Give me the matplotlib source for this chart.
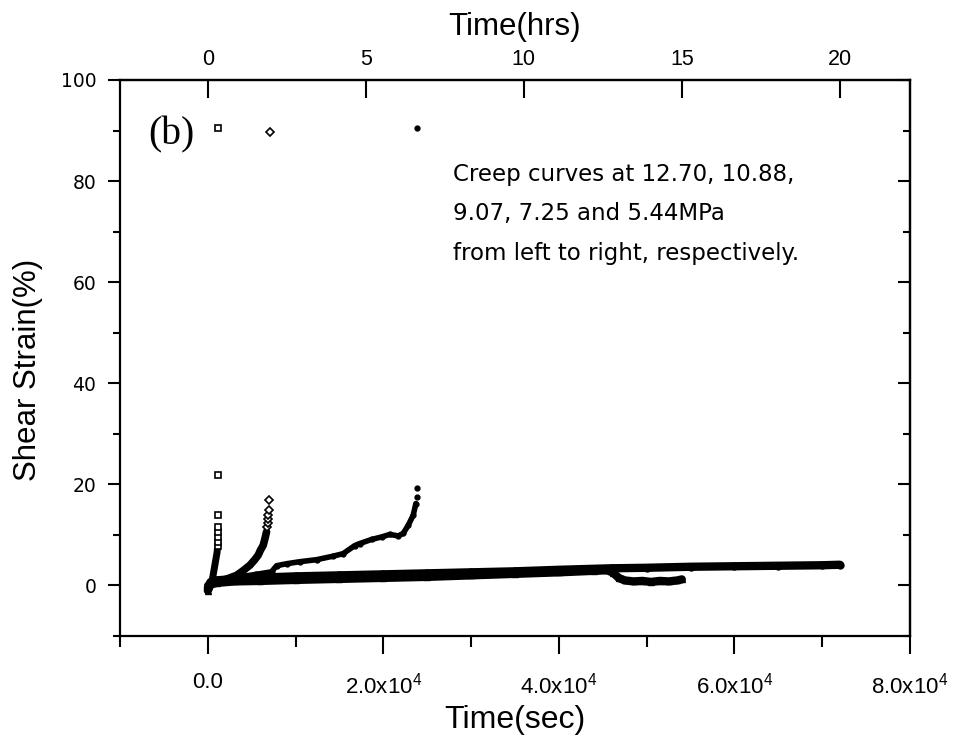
import matplotlib
matplotlib.use("Agg")
import matplotlib.pyplot as plt
from matplotlib.ticker import FixedLocator, MultipleLocator, FixedFormatter

plt.rcParams["font.family"] = ["Liberation Sans", "DejaVu Sans"]
plt.rcParams["mathtext.default"] = "regular"

# creep curves, time in seconds, shear strain in %
# 12.70 MPa
t1 = [0, 200, 400, 550, 650, 750, 850, 950, 1050, 1100]
s1 = [-0.5, 0.3, 0.8, 1.5, 2.5, 3.5, 4.5, 5.5, 6.5, 7.3]
tail1_t = [1120, 1130, 1130, 1140, 1140, 1140, 1140, 1140]
tail1_s = [7.8, 8.6, 9.6, 10.6, 11.6, 13.9, 21.8, 90.5]

# 10.88 MPa
t2 = [0, 230, 1000, 1750, 2500, 3270, 4000, 4790, 5300, 5740, 6000, 6300, 6500, 6690]
s2 = [0.0, 0.2, 0.6, 1.0, 1.5, 2.0, 2.9, 4.0, 5.0, 6.0, 7.0, 7.9, 9.2, 10.6]
tail2_t = [6750, 6800, 6850, 6900, 6950, 6950, 7060]
tail2_s = [11.5, 12.3, 13.2, 14.0, 14.9, 17.0, 89.7]

# 9.07 MPa
t3 = [0, 230, 1500, 3650, 5500, 7260, 7830, 8970, 10480, 12390, 14280, 15420,
      16750, 17320, 18650, 19800, 20740, 21690, 22260, 22830, 23400, 23700]
s3 = [0.0, 0.4, 1.0, 1.7, 2.2, 2.7, 3.9, 4.3, 4.7, 5.1, 5.8, 6.3,
      7.9, 8.3, 9.1, 9.6, 10.1, 9.8, 10.3, 11.9, 13.9, 16.2]
tail3_t = [23780, 23820, 23780]
tail3_s = [17.5, 19.3, 90.5]

# 7.25 MPa
t4 = [0, 300, 1000, 3000, 6000, 10000, 15000, 20000, 25000, 30000, 35000, 40000,
      44000, 45500, 46200, 46800, 47500, 48500, 49500, 50500, 51500, 52500, 53500, 54000]
s4 = [-1.0, 0.2, 0.5, 0.8, 0.9, 1.1, 1.3, 1.5, 1.7, 2.0, 2.3, 2.6,
      2.9, 3.0, 2.5, 1.5, 1.0, 0.8, 0.9, 0.7, 0.9, 0.8, 1.0, 1.2]

# 5.44 MPa
t5 = [0, 300, 1000, 3000, 5000, 10000, 15000, 20000, 25000, 30000, 35000, 40000,
      46000, 50000, 55000, 60000, 65000, 70000, 72000]
s5 = [-0.5, 0.6, 1.0, 1.3, 1.5, 1.8, 2.0, 2.2, 2.4, 2.6, 2.8, 3.1,
      3.4, 3.5, 3.7, 3.8, 3.9, 4.0, 4.1]

x_major = [0, 20000, 40000, 60000, 80000]
x_labels = ["0.0", r"2.0x10$^{4}$", r"4.0x10$^{4}$", r"6.0x10$^{4}$", r"8.0x10$^{4}$"]
hr_ticks = [0, 5, 10, 15, 20]
note = "Creep curves at 12.70, 10.88,\n9.07, 7.25 and 5.44MPa\nfrom left to right, respectively."

fig = plt.figure(figsize=(9.55, 7.38), dpi=100)
ax = fig.add_axes([0.1257, 0.1382, 0.8272, 0.7534])

ax.plot(t5, s5, color="black", lw=6, solid_capstyle="round", zorder=3)
ax.plot(t4, s4, color="black", lw=6, solid_capstyle="round", zorder=3)
ax.plot(t3, s3, color="black", lw=4, solid_capstyle="round", zorder=3)
ax.plot(t2, s2, color="black", lw=5.5, solid_capstyle="round", zorder=3)
ax.plot(t1, s1, color="black", lw=5, solid_capstyle="round", zorder=3)

ax.plot(t5, s5, ls="none", marker="o", ms=5, color="black", zorder=4)
ax.plot(t4, s4, ls="none", marker="^", ms=5, color="black", zorder=4)
ax.plot(t3 + tail3_t, s3 + tail3_s, ls="none", marker="o", ms=3.5, color="black", zorder=4)
ax.plot(tail2_t, tail2_s, ls="none", marker="D", ms=4, mfc="white",
        mec="black", mew=1.2, zorder=4)
ax.plot(tail1_t, tail1_s, ls="none", marker="s", ms=4, mfc="white",
        mec="black", mew=1.2, zorder=4)

ax.set_xlim(-10000, 80000)
ax.set_ylim(-10, 100)

for side in ax.spines.values():
    side.set_linewidth(1.6)

ax.xaxis.set_major_locator(FixedLocator(x_major))
ax.xaxis.set_major_formatter(FixedFormatter(x_labels))
ax.xaxis.set_minor_locator(MultipleLocator(10000))
ax.yaxis.set_major_locator(MultipleLocator(20))
ax.yaxis.set_minor_locator(MultipleLocator(10))

ax.tick_params(axis="x", which="major", direction="out", length=13, width=1.5,
               labelsize=16, pad=13, top=False)
ax.tick_params(axis="x", which="minor", direction="out", length=8, width=1.5, top=False)
ax.tick_params(axis="y", which="major", direction="out", length=9, width=1.5,
               labelsize=13.5, pad=8, right=False)
ax.tick_params(axis="y", which="minor", direction="out", length=5, width=1.5, right=False)
for lab in ax.get_yticklabels():
    lab.set_family(["DejaVu Sans"])

# right side ticks point inward, no labels
ry = ax.secondary_yaxis("right")
ry.yaxis.set_major_locator(MultipleLocator(20))
ry.yaxis.set_minor_locator(MultipleLocator(10))
ry.tick_params(which="major", direction="in", length=9, width=1.5, labelright=False)
ry.tick_params(which="minor", direction="in", length=5, width=1.5)
ry.spines["right"].set_linewidth(1.6)

# top axis in hours
top = ax.secondary_xaxis("top", functions=(lambda s: s / 3600.0, lambda h: h * 3600.0))
top.xaxis.set_major_locator(FixedLocator(hr_ticks))
top.tick_params(direction="in", length=13, width=1.5, labelsize=15.5, pad=7)
top.spines["top"].set_linewidth(1.6)
top.set_xlabel("Time(hrs)", fontsize=22.5, labelpad=10)

ax.set_xlabel("Time(sec)", fontsize=23, labelpad=5)
ax.set_ylabel("Shear Strain(%)", fontsize=22.5)
ax.yaxis.set_label_coords(-0.097, 0.478)

ax.text(-6800, 89.2, "(b)", family=["Liberation Serif"], fontsize=28.5, va="center", ha="left")
ax.text(27950, 83.6, note, family=["DejaVu Sans"], fontsize=16.5, va="top", ha="left",
        linespacing=1.92)

fig.savefig("out.png", dpi=100)
